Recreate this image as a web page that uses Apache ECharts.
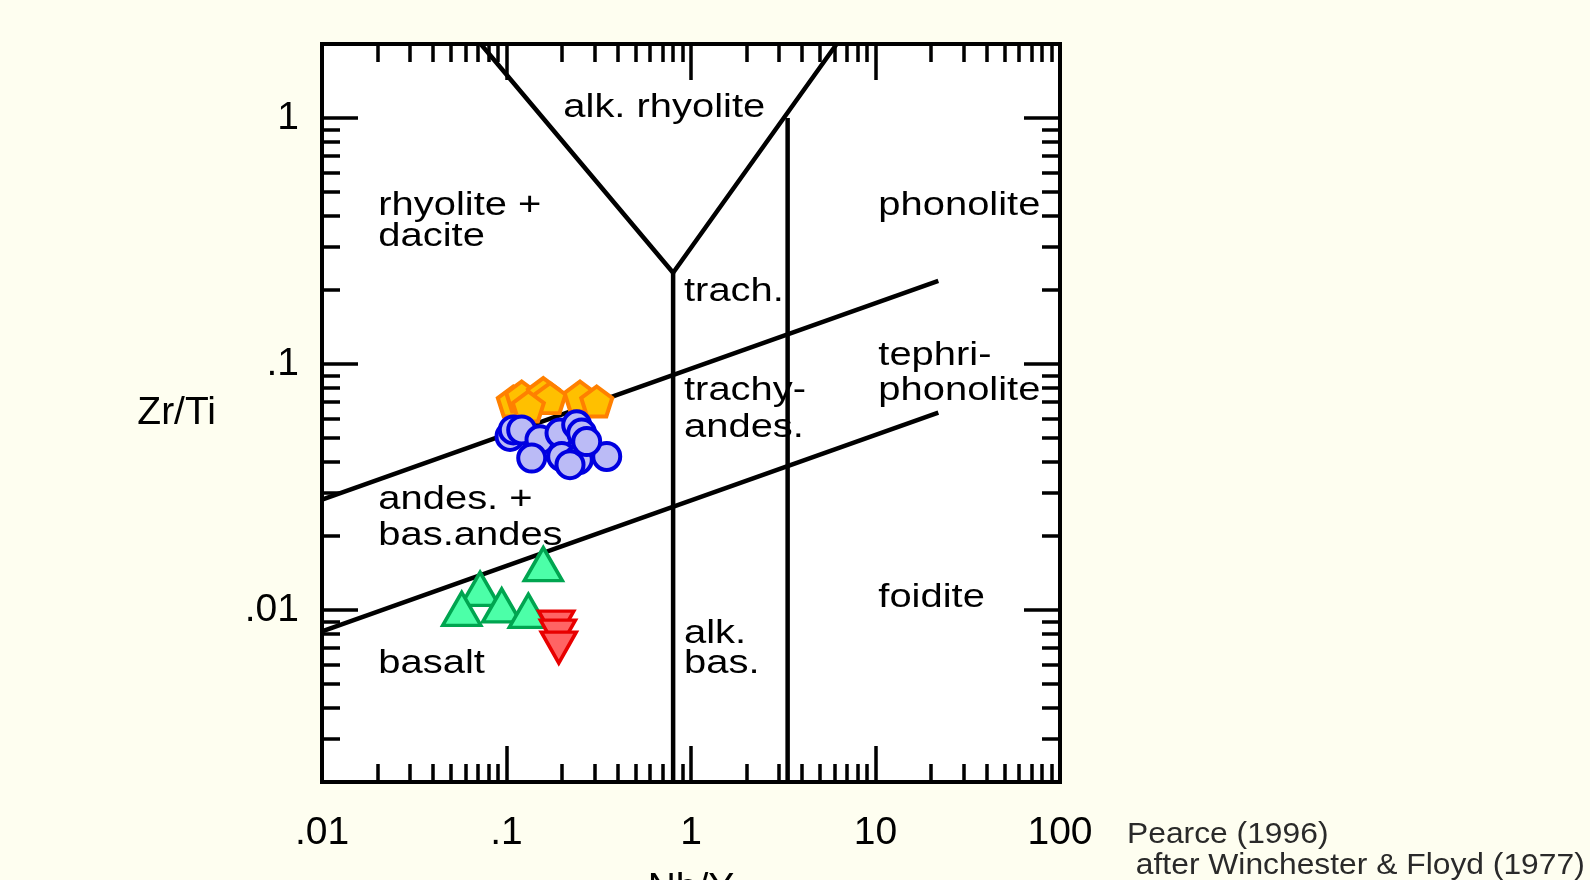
<!DOCTYPE html>
<html>
<head>
<meta charset="utf-8">
<script src="https://cdn.jsdelivr.net/npm/echarts@6/dist/echarts.min.js"></script>
<style>
html,body{margin:0;padding:0;background:#FEFEF0;}
#chart{width:1590px;height:880px;}
</style>
</head>
<body>
<div id="chart"></div>
<script>
// ---- axis ticks / labels ----
const xTickValues = [0.01, 0.1, 1, 10, 100];
const xTickLabels = ['.01', '.1', '1', '10', '100'];
const yTickValues = [0.01, 0.1, 1];
const yTickLabels = ['.01', '.1', '1'];
const xMinorTicks = [0.02,0.03,0.04,0.05,0.06,0.07,0.08,0.09,
                     0.2,0.3,0.4,0.5,0.6,0.7,0.8,0.9,
                     2,3,4,5,6,7,8,9,
                     20,30,40,50,60,70,80,90];
const yMinorTicks = [0.003,0.004,0.005,0.006,0.007,0.008,0.009,
                     0.02,0.03,0.04,0.05,0.06,0.07,0.08,0.09,
                     0.2,0.3,0.4,0.5,0.6,0.7,0.8,0.9];

// ---- classification boundaries (Nb/Y, Zr/Ti) ----
const boundaryV = [[0.0725, 2], [0.80, 0.235], [6.16, 2]];
const boundaryAlkBas = [[0.80, 0.235], [0.80, 0.002]];
const boundaryFoid = [[3.34, 1], [3.34, 0.002]];
const boundaryUpper = [[0.01, 0.0281], [21.9, 0.218]];
const boundaryLower = [[0.01, 0.0082], [21.9, 0.0635]];

// ---- samples (Nb/Y, Zr/Ti) ----
const pentagonSamples = [[0.1089,0.0704],[0.1209,0.0738],[0.1583,0.0762],[0.1721,0.0727],
                         [0.1313,0.0672],[0.2503,0.0738],[0.3083,0.0704]];
const circleSamples = [[0.1045,0.0508],[0.1089,0.0540],[0.1209,0.0540],[0.1519,0.0492],
                       [0.1370,0.0415],[0.1950,0.0524],[0.2401,0.0566],[0.2556,0.0524],
                       [0.1991,0.0421],[0.2450,0.0408],[0.3493,0.0421],[0.2209,0.0390],
                       [0.2721,0.0484]];
const triUpSamples = [[0.1583,0.01536],[0.0719,0.01220],[0.0572,0.01011],[0.0942,0.01044],[0.1313,0.00993]];
const triDownSamples = [[0.186,0.00856],[0.190,0.00787],[0.192,0.00704]];

// ---- field names ----
const regionLabelText = ['alk. rhyolite','rhyolite +','dacite','trach.','trachy-','andes.',
                         'tephri-','phonolite','phonolite','andes. +','bas.andes','basalt',
                         'alk.','bas.','foidite'];
const regionLabelPos = [[0.2032,1.098],[0.02019,0.4391],[0.02019,0.3301],[0.9165,0.1964],
                        [0.9165,0.07784],[0.9165,0.05506],[10.356,0.1079],[10.356,0.07784],
                        [10.356,0.4391],[0.02019,0.02808],[0.02019,0.01995],[0.02019,0.006058],
                        [0.9165,0.008019],[0.9165,0.006058],[10.356,0.01117]];

const FONT = '"Liberation Sans", Arial, Helvetica, sans-serif';
const chart = echarts.init(document.getElementById('chart'), null, {renderer: 'canvas'});

function labelFor(values, labels) {
  return function (v) {
    for (let i = 0; i < values.length; i++) {
      if (Math.abs(Math.log10(v) - Math.log10(values[i])) < 1e-6) return labels[i];
    }
    return '';
  };
}

function baseAxis(min, max, extra) {
  return Object.assign({
    type: 'log', logBase: 10, min: min, max: max, gridIndex: 0,
    axisLine: {show: false},
    splitLine: {show: false},
    axisLabel: {show: false},
  }, extra);
}
const tickStyle = {color: '#000', width: 3.5};

const xAxes = [
  baseAxis(0.01, 100, {position: 'bottom',
    axisTick: {show: true, inside: true, length: 36, lineStyle: tickStyle, customValues: xTickValues},
    axisLabel: {show: true, customValues: xTickValues, formatter: labelFor(xTickValues, xTickLabels),
      fontSize: 39, color: '#000', fontFamily: FONT, margin: 32},
    name: 'Nb/Y', nameLocation: 'middle', nameGap: 88,
    nameTextStyle: {fontSize: 39, color: '#000', fontFamily: FONT}}),
  baseAxis(0.01, 100, {position: 'bottom',
    axisTick: {show: true, inside: true, length: 18, lineStyle: tickStyle, customValues: xMinorTicks}}),
  baseAxis(0.01, 100, {position: 'top',
    axisTick: {show: true, inside: true, length: 36, lineStyle: tickStyle, customValues: xTickValues}}),
  baseAxis(0.01, 100, {position: 'top',
    axisTick: {show: true, inside: true, length: 18, lineStyle: tickStyle, customValues: xMinorTicks}})
];
const yAxes = [
  baseAxis(0.002, 2, {position: 'left',
    axisTick: {show: true, inside: true, length: 36, lineStyle: tickStyle, customValues: yTickValues},
    axisLabel: {show: true, customValues: yTickValues, formatter: labelFor(yTickValues, yTickLabels),
      fontSize: 39, color: '#000', fontFamily: FONT, margin: 23},
    name: 'Zr/Ti', nameLocation: 'middle', nameRotate: 0, nameGap: 106,
    nameTextStyle: {fontSize: 39, color: '#000', fontFamily: FONT}}),
  baseAxis(0.002, 2, {position: 'left',
    axisTick: {show: true, inside: true, length: 18, lineStyle: tickStyle, customValues: yMinorTicks}}),
  baseAxis(0.002, 2, {position: 'right',
    axisTick: {show: true, inside: true, length: 36, lineStyle: tickStyle, customValues: yTickValues}}),
  baseAxis(0.002, 2, {position: 'right',
    axisTick: {show: true, inside: true, length: 18, lineStyle: tickStyle, customValues: yMinorTicks}})
];

function boundary(data) {
  return {type: 'line', data: data, symbol: 'none', silent: true, z: 2,
    lineStyle: {color: '#000', width: 4.5}, xAxisIndex: 0, yAxisIndex: 0};
}

const PENTAGON = 'path://M50,0 L97.6,34.5 L79.4,90.5 L20.6,90.5 L2.4,34.5 Z';

chart.setOption({
  animation: false,
  backgroundColor: '#FEFEF0',
  grid: {left: 322, top: 44, width: 738, height: 738, show: true, containLabel: false,
    outerBoundsMode: 'none',
    backgroundColor: '#ffffff', borderColor: '#000', borderWidth: 4},
  xAxis: xAxes,
  yAxis: yAxes,
  series: [
    boundary(boundaryV),
    boundary(boundaryAlkBas),
    boundary(boundaryFoid),
    boundary(boundaryUpper),
    boundary(boundaryLower),
    {type: 'scatter', data: pentagonSamples, symbol: PENTAGON, symbolSize: [31, 30], z: 5,
      itemStyle: {color: '#FFC000', borderColor: '#FF8000', borderWidth: 4, opacity: 1}},
    {type: 'scatter', data: circleSamples, symbol: 'circle', symbolSize: 27, z: 6,
      itemStyle: {color: '#BBBBF6', borderColor: '#0000E0', borderWidth: 4, opacity: 1}},
    {type: 'scatter', data: triUpSamples, symbol: 'triangle', symbolSize: [38, 33], z: 6,
      itemStyle: {color: '#4CFFA8', borderColor: '#00A550', borderWidth: 3.5, opacity: 1}},
    {type: 'scatter', data: triDownSamples, symbol: 'triangle', symbolRotate: 180, symbolSize: [35, 31], z: 6,
      itemStyle: {color: '#FF6464', borderColor: '#E80000', borderWidth: 3.5, opacity: 1}},
    {type: 'custom', coordinateSystem: 'cartesian2d', data: regionLabelPos, silent: true, z: 8,
      renderItem: function (params, api) {
        const p = api.coord([api.value(0), api.value(1)]);
        return {type: 'text', x: p[0], y: p[1], scaleX: 1.21,
          style: {text: regionLabelText[params.dataIndex], font: '33px ' + FONT, fill: '#000',
            align: 'left', verticalAlign: 'middle'}};
      }}
  ],
  graphic: [
    {type: 'text', x: 1127, y: 835, scaleX: 1.06,
      style: {text: 'Pearce (1996)', font: '30px ' + FONT, fill: '#2a2a2a', align: 'left', verticalAlign: 'middle'}},
    {type: 'text', x: 1127, y: 866, scaleX: 1.06,
      style: {text: ' after Winchester & Floyd (1977)', font: '30px ' + FONT, fill: '#2a2a2a', align: 'left', verticalAlign: 'middle'}}
  ]
});
</script>
</body>
</html>
